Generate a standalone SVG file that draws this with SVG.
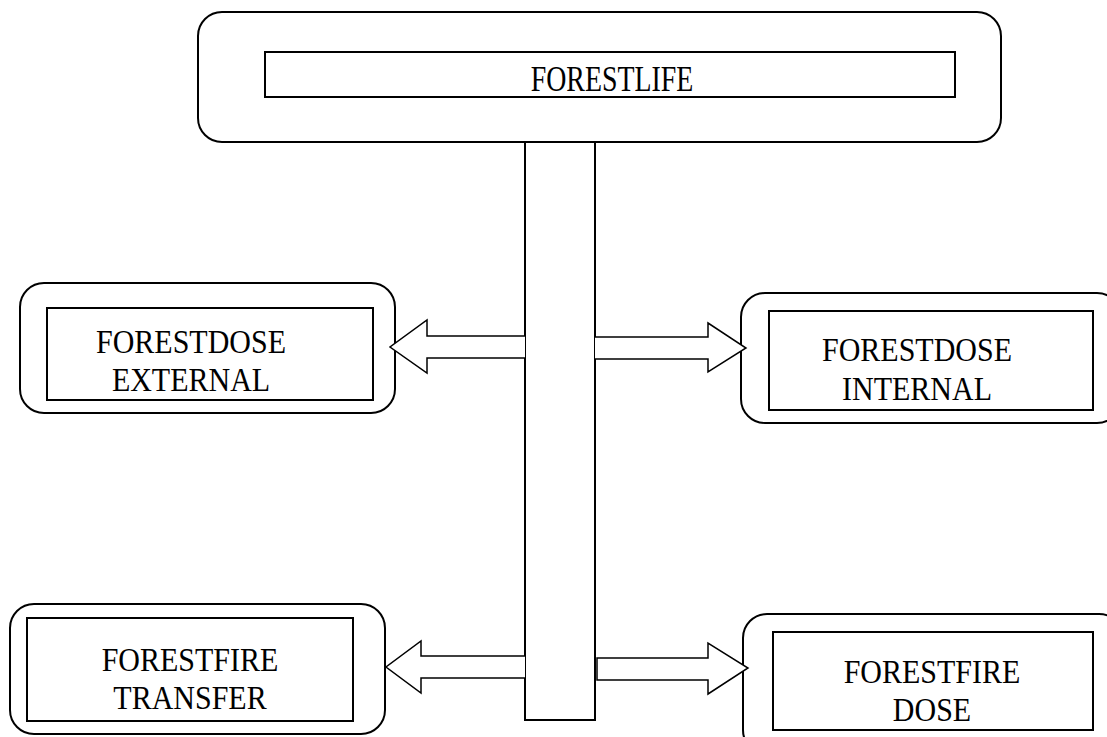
<svg xmlns="http://www.w3.org/2000/svg" width="1107" height="737" viewBox="0 0 1107 737">
<style>
.outer{fill:#fff;stroke:#000;stroke-width:2}
.inner{fill:#fff;stroke:#000;stroke-width:2}
.bar{fill:#fff;stroke:#000;stroke-width:2}
.arrow{fill:#fff;stroke:#000;stroke-width:1.5;stroke-linejoin:miter}
text{font-family:"Liberation Serif","Times New Roman",serif;font-size:30px;fill:#000;text-anchor:middle}
</style>
<rect width="1107" height="737" fill="#fff"/>
<g id="bar"><rect class="bar" x="525" y="142" width="70" height="578"/></g>
<g id="forestlife">
<rect class="outer" x="198" y="12" width="803" height="130" rx="24"/>
<rect class="inner" x="265" y="52" width="690" height="45"/>
<text transform="translate(612,91) scale(0.93,1.18)" x="0" y="0">FORESTLIFE</text>
</g>
<g id="forestdose-external">
<rect class="outer" x="20" y="283" width="375" height="130" rx="24"/>
<rect class="inner" x="47" y="308" width="326" height="92"/>
<text transform="translate(191,353) scale(1,1.15)" x="0" y="0">FORESTDOSE</text>
<text transform="translate(191,391) scale(1,1.15)" x="0" y="0">EXTERNAL</text>
</g>
<g id="forestdose-internal">
<rect class="outer" x="741" y="293" width="380" height="130" rx="24"/>
<rect class="inner" x="769" y="311" width="324" height="99"/>
<text transform="translate(917,361) scale(1,1.15)" x="0" y="0">FORESTDOSE</text>
<text transform="translate(917,400) scale(1,1.15)" x="0" y="0">INTERNAL</text>
</g>
<g id="forestfire-transfer">
<rect class="outer" x="10" y="604" width="375" height="130" rx="24"/>
<rect class="inner" x="27" y="618" width="326" height="103"/>
<text transform="translate(190,671) scale(1,1.15)" x="0" y="0">FORESTFIRE</text>
<text transform="translate(190,709) scale(1,1.15)" x="0" y="0">TRANSFER</text>
</g>
<g id="forestfire-dose">
<rect class="outer" x="743" y="614" width="380" height="140" rx="24"/>
<rect class="inner" x="773" y="632" width="320" height="98"/>
<text transform="translate(932,683) scale(1,1.15)" x="0" y="0">FORESTFIRE</text>
<text transform="translate(932,721) scale(1,1.15)" x="0" y="0">DOSE</text>
</g>
<g id="connectors">
<path class="arrow" d="M525,336 L427,336 L427,320 L390,347 L427,373 L427,358 L525,358"/>
<path class="arrow" d="M595,337 L708,337 L708,323 L746,348 L708,372 L708,359 L595,359"/>
<path class="arrow" d="M525,656 L421,656 L421,641 L386,667 L421,693 L421,678 L525,678"/>
<path class="arrow" d="M597,658 L708,658 L708,643 L748,668 L708,694 L708,680 L597,680 Z"/>
</g>
</svg>
